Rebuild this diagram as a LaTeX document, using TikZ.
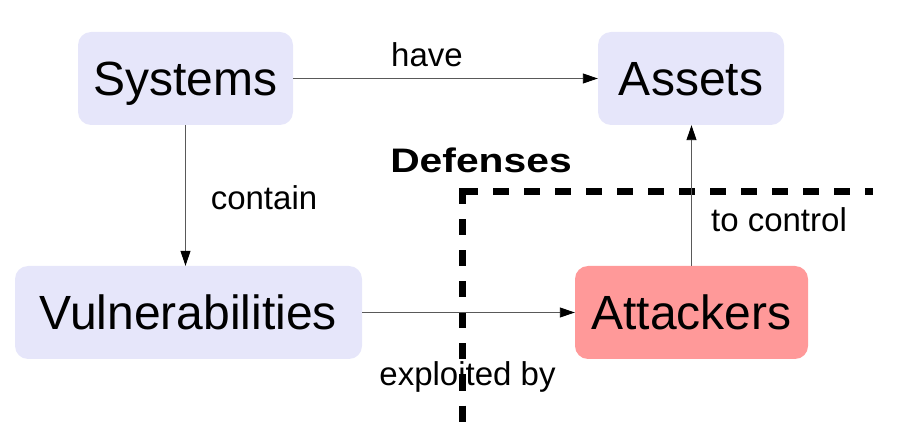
\documentclass[tikz,border=0pt]{standalone}
\usepackage{graphicx}
\usepackage{fontspec}
\setmainfont{Liberation Sans}
\usetikzlibrary{arrows.meta}
\definecolor{lavender}{RGB}{230,230,250}
\definecolor{salmon}{RGB}{255,153,153}

\begin{document}
\begin{tikzpicture}
[x=1pt, y=-1pt, every node/.style={inner sep=0pt},
 box/.style={rounded corners=13pt, fill=lavender, minimum height=93pt, text height=34pt, text depth=0pt, font=\fontsize{48}{52}\selectfont},
 lbl/.style={anchor=base, font=\fontsize{33}{38}\selectfont},
 link/.style={line width=0.9pt, color=black!65, -{Triangle[length=15pt, width=10pt, color=black]}},
 defense/.style={line width=7pt, dash pattern=on 16pt off 15pt}]
\useasboundingbox (0,0) rectangle (918,427);
\node (systems) [box, minimum width=215pt] at (185.5, 78.5) {Systems};
\node (assets) [box, minimum width=186pt] at (691, 78.5) {Assets};
\node (vulns) [box, minimum width=347pt] at (188.5, 312.5) {Vulnerabilities};
\node (attackers) [box, minimum width=233pt, fill=salmon] at (691.5, 312.5) {Attackers};
\node (have) [lbl] at (427, 67) {have};
\node (contain) [lbl] at (264, 210) {contain};
\node (tocontrol) [lbl] at (779, 232) {to control};
\node (exploited) [lbl] at (467.5, 385) {exploited by};
\node (defenses) [anchor=base, font=\bfseries\fontsize{34}{40}\selectfont] at (481, 173) {\scalebox{1.2}[1]{Defenses}};
\coordinate (corner) at (462, 192);
\coordinate (cornertop) at (462, 188.5);
\coordinate (rightend) at (873, 192);
\coordinate (bottomend) at (462, 427);
\draw [defense] (corner) -- (rightend);
\draw [defense] (cornertop) -- (bottomend);
\draw [link] (systems) -- (assets);
\draw [link] (systems.south) -- (systems.south |- vulns.north);
\draw [link] (vulns) -- (attackers);
\draw [link] (attackers.north) -- (attackers.north |- assets.south);
\end{tikzpicture}
\end{document}
